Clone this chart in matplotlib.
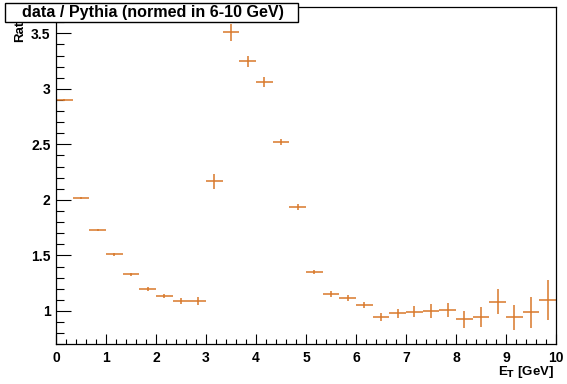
import numpy as np
import matplotlib.pyplot as plt
from matplotlib.patches import Rectangle
from matplotlib.ticker import MultipleLocator, FuncFormatter

# ratio data / pythia in E_T bins of 1/3 GeV
bin_lo = np.arange(30) / 3.0
ratio = [2.90, 2.016, 1.728, 1.51, 1.33, 1.195, 1.135, 1.09, 1.093, 2.166,
         3.51, 3.248, 3.062, 2.52, 1.935, 1.35, 1.153, 1.12, 1.054, 0.943,
         0.979, 0.994, 1.00, 1.009, 0.925, 0.946, 1.084, 0.943, 0.988, 1.096]
ratio_err = [0.005, 0.008, 0.01, 0.012, 0.015, 0.018, 0.02, 0.025, 0.035, 0.07,
             0.075, 0.05, 0.045, 0.03, 0.025, 0.02, 0.025, 0.028, 0.03, 0.035,
             0.04, 0.05, 0.06, 0.065, 0.075, 0.09, 0.11, 0.115, 0.14, 0.18]

plt.rcParams['font.family'] = ['Liberation Sans', 'DejaVu Sans']
plt.rcParams['font.weight'] = 'bold'

fig = plt.figure(figsize=(5.67, 3.84), dpi=100)
ax = fig.add_axes([56 / 567, 1 - 344.3 / 384, 500 / 567, 337.3 / 384])

centers = bin_lo + 1 / 6.0
ax.errorbar(centers, ratio, xerr=1 / 6.0, yerr=ratio_err, fmt='none',
            ecolor='#d8782a', elinewidth=1.1, capsize=0)

ax.xaxis.set_major_locator(MultipleLocator(1))
ax.xaxis.set_minor_locator(MultipleLocator(0.2))
ax.yaxis.set_major_locator(MultipleLocator(0.5))
ax.yaxis.set_minor_locator(MultipleLocator(0.1))
gfmt = FuncFormatter(lambda v, pos: f'{v:g}')
ax.xaxis.set_major_formatter(gfmt)
ax.yaxis.set_major_formatter(gfmt)
ax.tick_params(axis='both', which='both', direction='in', top=False, right=False,
               labelsize=10, width=0.8, color='black')
ax.tick_params(axis='y', which='major', length=11, pad=4)
ax.tick_params(axis='y', which='minor', length=5.5)
ax.tick_params(axis='x', which='major', length=7, pad=5)
ax.tick_params(axis='x', which='minor', length=3.5)
ax.set_xlim(0, 10)
ax.set_ylim(0.70, 3.737)
for s in ax.spines.values():
    s.set_linewidth(0.9)

# axis titles placed ROOT-style
fig.text(554 / 567, 1 - 372 / 384, r'E$_\mathbf{T}$ [GeV]', ha='right', va='center',
         fontsize=9.5, fontweight='bold')
fig.text(20 / 567, 1 - 9 / 384, 'Ratio', ha='center', va='top', rotation=90,
         fontsize=9.5, fontweight='bold')

# title box
fig.patches.append(Rectangle((5 / 567, 1 - 22 / 384), 293 / 567, 19 / 384,
                             transform=fig.transFigure, facecolor='white',
                             edgecolor='black', linewidth=1, zorder=5))
fig.text(153 / 567, 1 - 12.5 / 384, 'data / Pythia (normed in 6-10 GeV)',
         ha='center', va='center', fontsize=11.6, fontweight='bold', zorder=6)

fig.savefig('out.png', dpi=100)
